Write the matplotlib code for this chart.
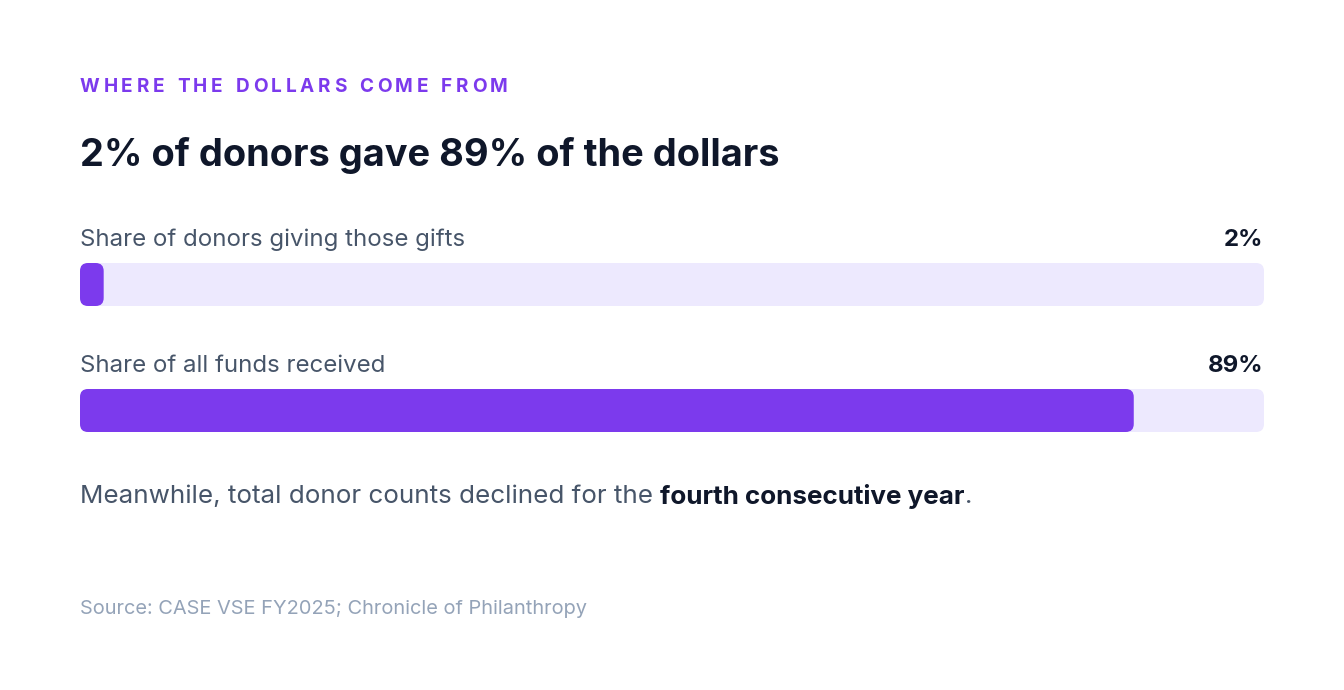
import matplotlib
matplotlib.use("Agg")
import matplotlib.pyplot as plt
from matplotlib.patches import FancyBboxPatch

plt.rcParams['font.family'] = ['Inter', 'DejaVu Sans']

kicker = "WHERE THE DOLLARS COME FROM"
title = "2% of donors gave 89% of the dollars"
labels = ["Share of donors giving those gifts", "Share of all funds received"]
values = [2, 89]
value_labels = ["2%", "89%"]
note_parts = ["Meanwhile, total donor counts declined for the ", "fourth consecutive year", "."]
source = "Source: CASE VSE FY2025; Chronicle of Philanthropy"

PURPLE = "#7c3aed"; TRACK = "#ede9fe"; DARK = "#0f172a"; GREY = "#475569"; LIGHT = "#94a3b8"
W, H = 1344, 690
fig = plt.figure(figsize=(W/100, H/100), dpi=100)
fig.patch.set_facecolor("white")
ax = fig.add_axes([0, 0, 1, 1]); ax.set_xlim(0, W); ax.set_ylim(H, 0); ax.axis("off")
r = fig.canvas.get_renderer()
PT = 1/1.389

def width(t):
    return t.get_window_extent(renderer=r).width

# kicker with tracking
x = 80
for ch in kicker:
    t = ax.text(x, 85, ch, fontsize=19*PT, fontweight="bold", color=PURPLE, va="center_baseline")
    x += width(t) + 3.6 if ch != " " else 9.5

ax.text(80, 152, title, fontsize=38*PT, fontweight="bold", color=DARK, va="center_baseline")

# bars
bx0, bx1 = 80, 1264
bax = fig.add_axes([bx0/W, 1-440/H, (bx1-bx0)/W, (440-230)/H])
bax.set_xlim(0, 100); bax.set_ylim(440, 230); bax.axis("off")
ux = (bx1-bx0)/100
rad = 8
tops = [263, 389]; bh = 43
for lab, v, vl, top in zip(labels, values, value_labels, tops):
    for w, c in [(100, TRACK), (v, PURPLE)]:
        p = FancyBboxPatch((0, top), w, bh, boxstyle=f"round,pad=0,rounding_size={rad/ux}",
                           mutation_aspect=rad/(rad/ux), fc=c, ec="none")
        bax.add_patch(p)
    ax.text(80, top-26, lab, fontsize=24*PT, color=GREY, va="center_baseline")
    ax.text(1263, top-26, vl, fontsize=24*PT, fontweight="bold", color=DARK, va="center_baseline", ha="right")

x = 80
for part, wt, col in zip(note_parts, ["normal", "bold", "normal"], [GREY, DARK, GREY]):
    t = ax.text(x, 494, part, fontsize=26*PT, fontweight=wt, color=col, va="center_baseline")
    x += width(t)

ax.text(80, 607, source, fontsize=20*PT, color=LIGHT, va="center_baseline")
fig.savefig("out.png", dpi=100)
